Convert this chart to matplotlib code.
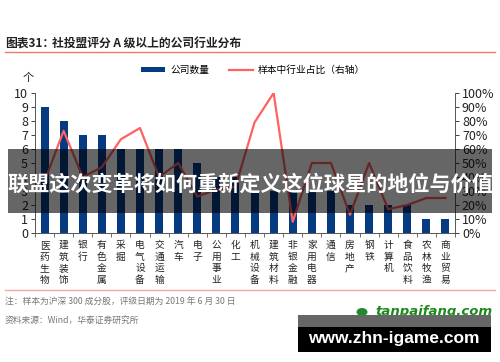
import matplotlib
matplotlib.use("Agg")
import matplotlib.pyplot as plt
from matplotlib.patches import Rectangle, Circle
from matplotlib.lines import Line2D
from matplotlib.ticker import FuncFormatter, MultipleLocator

plt.rcParams['font.family'] = ['Noto Sans CJK SC', 'DejaVu Sans']

industries = ['医药生物', '建筑装饰', '银行', '有色金属', '采掘', '电气设备', '交通运输',
              '汽车', '电子', '公用事业', '化工', '机械设备', '建筑材料', '非银金融',
              '家用电器', '通信', '房地产', '钢铁', '计算机', '食品饮料', '农林牧渔', '商业贸易']
company_count = [9, 8, 7, 7, 6, 6, 6, 6, 5, 4, 4, 3, 3, 3, 3, 3, 2, 2, 2, 2, 1, 1]
sample_share = [0.37, 0.73, 0.40, 0.47, 0.67, 0.75, 0.40, 0.50, 0.26, 0.31, 0.33, 0.79,
                1.00, 0.08, 0.50, 0.50, 0.13, 0.50, 0.17, 0.20, 0.25, 0.25]

BAR = '#063b82'
RED = '#ff6161'
W, H = 500, 362

def fx(px):
    return px / W

def fy(py):
    return 1 - py / H

fig = plt.figure(figsize=(5, 3.62), dpi=100)
fig.patch.set_facecolor('white')

ax = fig.add_axes([fx(35), fy(233), fx(455) - fx(35), fy(93) - fy(233)])
x = list(range(len(industries)))
bars = ax.bar(x, company_count, width=0.42, color=BAR, zorder=2)
ax.set_xlim(-0.47, len(industries) - 1 + 0.42)
ax.set_ylim(0, 10)
ax.yaxis.set_major_locator(MultipleLocator(1))
ax.tick_params(axis='y', labelsize=9, length=3, width=0.6, pad=2, colors='#222222')
ax.set_xticks(x)
ax.set_xticklabels(['\n'.join(s) for s in industries], fontsize=7, linespacing=1.2,
                   va='top', color='#222222')
ax.tick_params(axis='x', length=0, pad=5)
ax.set_xticks([i + 0.5 for i in range(-1, len(industries))], minor=True)
ax.tick_params(axis='x', which='minor', length=3, width=0.6, color='#555555')
for s in ['top', 'right']:
    ax.spines[s].set_visible(False)
for s in ['left', 'bottom']:
    ax.spines[s].set_linewidth(0.7)
    ax.spines[s].set_color('#555555')

ax2 = ax.twinx()
line, = ax2.plot(x, sample_share, color=RED, lw=1.6, zorder=3)
ax2.set_ylim(0, 1)
ax2.yaxis.set_major_locator(MultipleLocator(0.1))
ax2.yaxis.set_major_formatter(FuncFormatter(lambda v, p: f'{v * 100:.0f}%'))
ax2.tick_params(axis='y', labelsize=9, length=3, width=0.6, pad=2, colors='#222222')
for s in ['top', 'left', 'bottom']:
    ax2.spines[s].set_visible(False)
ax2.spines['right'].set_linewidth(0.7)
ax2.spines['right'].set_color('#555555')

fig.text(fx(28), fy(78), '个', fontsize=8, ha='center', va='center', color='#222222')

fig.legend([bars, line], ['公司数量', '样本中行业占比（右轴）'], ncol=2, frameon=False,
           loc='center left', bbox_to_anchor=(fx(141), fy(70)), fontsize=7,
           borderaxespad=0, borderpad=0,
           handlelength=2.5, handleheight=0.5, columnspacing=2.0, handletextpad=0.5)

# title and rules
fig.text(fx(5), fy(43), '图表31：', fontsize=8.5,
         fontweight='bold', ha='left', va='center', color='#222222')
fig.text(fx(52), fy(43), '社投盟评分 A 级以上的公司行业分布', fontsize=8.5,
         fontweight='bold', ha='left', va='center', color='#222222')
fig.add_artist(Line2D([fx(5), fx(495)], [fy(52), fy(52)], color='#f07868', lw=1.0))
fig.add_artist(Line2D([fx(5), fx(495)], [fy(290), fy(290)], color='#f4a8a0', lw=1.0))

fig.text(fx(5), fy(302), '注：样本为沪深 300 成分股，评级日期为 2019 年 6 月 30 日', fontsize=6.3,
         ha='left', va='center', color='#777777')
fig.text(fx(5), fy(320), '资料来源：Wind，华泰证券研究所', fontsize=6.3,
         ha='left', va='center', color='#777777')

# overlay banner
fig.add_artist(Rectangle((fx(8), fy(213)), fx(492) - fx(8), fy(149) - fy(213),
                         transform=fig.transFigure, facecolor='black', alpha=0.6,
                         edgecolor='none', zorder=5))
fig.text(fx(250), fy(184), '联盟这次变革将如何重新定义这位球星的地位与价值', fontsize=15.2,
         fontweight='bold', color='white', ha='center', va='center', zorder=6)

# watermark logos
fig.add_artist(Circle((fx(362), fy(312)), 0.011, transform=fig.transFigure,
                      facecolor='#1f8a2a', edgecolor='none', zorder=5))
fig.text(fx(434), fy(312), 'tanpaifang.com', fontsize=9.5, fontweight='bold', style='italic',
         family=['DejaVu Sans'], color='#1a8a1a', ha='center', va='center', zorder=5)
fig.add_artist(Rectangle((fx(298), fy(327)), fx(491) - fx(298), fy(315) - fy(327),
                         transform=fig.transFigure, facecolor='#666666', edgecolor='none', zorder=6))
fig.add_artist(Rectangle((fx(298), fy(352)), fx(491) - fx(298), fy(327) - fy(352),
                         transform=fig.transFigure, facecolor='black', edgecolor='none', zorder=6))
fig.text(fx(394), fy(339), 'www.zhn-igame.com', fontsize=12.5, fontweight='bold',
         family=['Liberation Sans'], color='white', ha='center', va='center', zorder=7)

fig.savefig('out.png', dpi=100)
